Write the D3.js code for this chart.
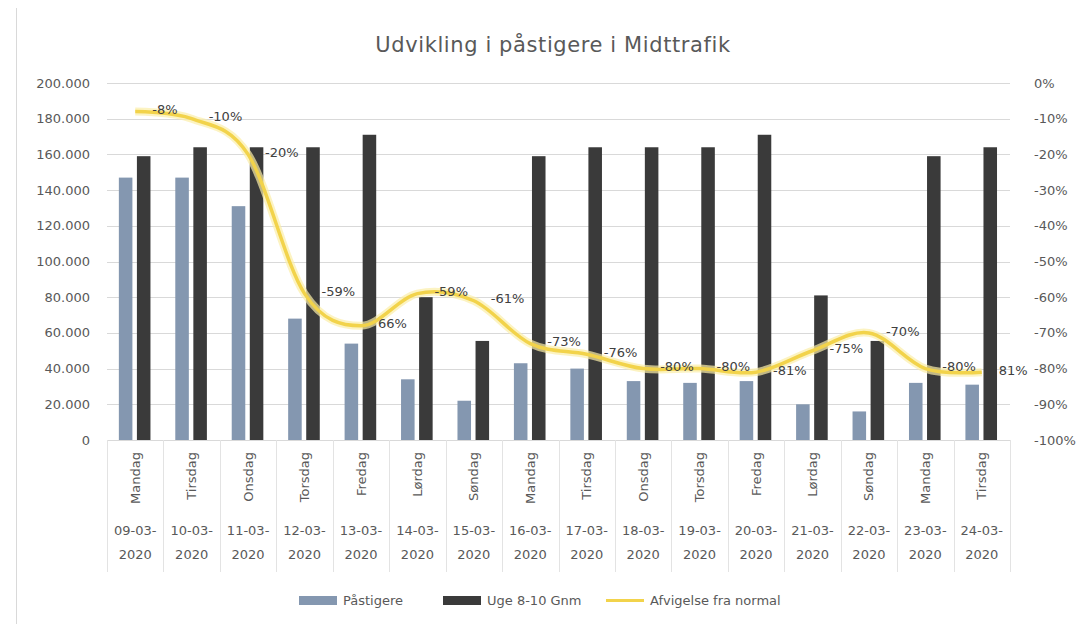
<!DOCTYPE html>
<html>
<head>
<meta charset="utf-8">
<script src="https://cdn.jsdelivr.net/npm/d3@7"></script>
<style>
  body { margin: 0; background: #fff; }
  text { font-family: "DejaVu Sans", sans-serif; fill: #595959; }
</style>
</head>
<body>
<svg id="chart" width="1084" height="624"></svg>
<script>
// ---------------------------//
//            DATA            //
// ---------------------------//
var weekdays = ["Mandag", "Tirsdag", "Onsdag", "Torsdag", "Fredag", "Lørdag", "Søndag",
                "Mandag", "Tirsdag", "Onsdag", "Torsdag", "Fredag", "Lørdag", "Søndag",
                "Mandag", "Tirsdag"]
var dates = ["09-03-2020", "10-03-2020", "11-03-2020", "12-03-2020", "13-03-2020", "14-03-2020",
             "15-03-2020", "16-03-2020", "17-03-2020", "18-03-2020", "19-03-2020", "20-03-2020",
             "21-03-2020", "22-03-2020", "23-03-2020", "24-03-2020"]
var pastigere = [147000, 147000, 131000, 68000, 54000, 34000, 22000, 43000,
                 40000, 33000, 32000, 33000, 20000, 16000, 32000, 31000]
var ugeGnm = [159000, 164000, 164000, 164000, 171000, 80000, 55500, 159000,
              164000, 164000, 164000, 171000, 81000, 55500, 159000, 164000]
var afvigelse = [-8, -10, -20, -59, -68, -59, -61, -73, -76, -80, -80, -81, -75, -70, -80, -81]
var afvigelseLabels = ["-8%", "-10%", "-20%", "-59%", "66%", "-59%", "-61%", "-73%",
                       "-76%", "-80%", "-80%", "-81%", "-75%", "-70%", "-80%", "81%"]
var leftTicks = [0, 20000, 40000, 60000, 80000, 100000, 120000, 140000, 160000, 180000, 200000]
var rightTicks = [0, -10, -20, -30, -40, -50, -60, -70, -80, -90, -100]
var seriesNames = ["Påstigere", "Uge 8-10 Gnm", "Afvigelse fra normal"]

var colors = { p: "#8497b0", u: "#3a3a3a", line: "#f2d34b" }

// ---------------------------//
//       AXIS  AND SCALE      //
// ---------------------------//
var svg = d3.select("#chart")
var plotLeft = 107, plotRight = 1010, plotTop = 83, plotBottom = 440

var x0 = d3.scaleBand().domain(d3.range(dates.length)).range([plotLeft, plotRight])
var bw = x0.bandwidth()
var x1 = d3.scaleBand().domain(["p", "u"]).range([bw * 0.21, bw * 0.77]).paddingInner(0.25)
var y = d3.scaleLinear().domain([0, 200000]).range([plotBottom, plotTop])
var y2 = d3.scaleLinear().domain([-100, 0]).range([plotBottom, plotTop])

// frame edge on the left
svg.append("line").attr("x1", 16.5).attr("x2", 16.5).attr("y1", 8).attr("y2", 624)
  .attr("stroke", "#d9d9d9")

// title
svg.append("text")
  .attr("x", 553).attr("y", 52)
  .attr("text-anchor", "middle")
  .style("font-size", "21px")
  .style("letter-spacing", "0.6px")
  .text("Udvikling i påstigere i Midttrafik")

// gridlines
svg.append("g").selectAll("line")
  .data(leftTicks)
  .enter().append("line")
    .attr("x1", plotLeft).attr("x2", plotRight)
    .attr("y1", function(d){ return Math.round(y(d)) + 0.5 })
    .attr("y2", function(d){ return Math.round(y(d)) + 0.5 })
    .attr("stroke", "#d9d9d9")

// left axis labels
svg.append("g").selectAll("text")
  .data(leftTicks)
  .enter().append("text")
    .attr("x", 90)
    .attr("y", function(d){ return y(d) })
    .attr("dy", "0.35em")
    .attr("text-anchor", "end")
    .style("font-size", "13px")
    .text(function(d){ return d3.format(",")(d).replace(/,/g, ".") })

// right axis labels
svg.append("g").selectAll("text")
  .data(rightTicks)
  .enter().append("text")
    .attr("x", 1034)
    .attr("y", function(d){ return y2(d) })
    .attr("dy", "0.35em")
    .attr("text-anchor", "start")
    .style("font-size", "13px")
    .text(function(d){ return d + "%" })

// category separators
svg.append("g").selectAll("line")
  .data(d3.range(dates.length + 1))
  .enter().append("line")
    .attr("x1", function(i){ return Math.round(plotLeft + i * bw) + 0.5 })
    .attr("x2", function(i){ return Math.round(plotLeft + i * bw) + 0.5 })
    .attr("y1", plotBottom).attr("y2", 572)
    .attr("stroke", "#e3e3e3")

// weekday labels (rotated)
svg.append("g").selectAll("text")
  .data(weekdays)
  .enter().append("text")
    .attr("transform", function(d, i){
      return "translate(" + (x0(i) + bw / 2) + ",452) rotate(-90)" })
    .attr("dy", "0.35em")
    .attr("text-anchor", "end")
    .style("font-size", "13px")
    .text(function(d){ return d })

// date labels on two lines
var dl = svg.append("g").selectAll("text")
  .data(dates)
  .enter().append("text")
    .attr("text-anchor", "middle")
    .style("font-size", "13px")
dl.append("tspan")
  .attr("x", function(d, i){ return x0(i) + bw / 2 })
  .attr("y", 535)
  .text(function(d){ return d.slice(0, 6) })
dl.append("tspan")
  .attr("x", function(d, i){ return x0(i) + bw / 2 })
  .attr("y", 559)
  .text(function(d){ return d.slice(6) })

// ---------------------------//
//            BARS            //
// ---------------------------//
svg.append("g").selectAll("rect")
  .data(pastigere)
  .enter().append("rect")
    .attr("x", function(d, i){ return x0(i) + x1("p") })
    .attr("width", x1.bandwidth())
    .attr("y", function(d){ return y(d) })
    .attr("height", function(d){ return plotBottom - y(d) })
    .attr("fill", colors.p)

svg.append("g").selectAll("rect")
  .data(ugeGnm)
  .enter().append("rect")
    .attr("x", function(d, i){ return x0(i) + x1("u") })
    .attr("width", x1.bandwidth())
    .attr("y", function(d){ return y(d) })
    .attr("height", function(d){ return plotBottom - y(d) })
    .attr("fill", colors.u)

// ---------------------------//
//            LINE            //
// ---------------------------//
var line = d3.line()
  .x(function(d, i){ return x0(i) + bw / 2 })
  .y(function(d){ return y2(d) })
  .curve(d3.curveCatmullRom.alpha(0))

svg.append("path").datum(afvigelse)
  .attr("d", line).attr("fill", "none")
  .attr("stroke", "#fbeea8").attr("stroke-width", 8).attr("stroke-opacity", 0.7)
svg.append("path").datum(afvigelse)
  .attr("d", line).attr("fill", "none")
  .attr("stroke", colors.line).attr("stroke-width", 3.5)

// data labels
svg.append("g").selectAll("text")
  .data(afvigelse)
  .enter().append("text")
    .attr("x", function(d, i){ return x0(i) + bw / 2 + 17 })
    .attr("y", function(d){ return y2(d) })
    .attr("dy", "0.2em")
    .style("font-size", "13px")
    .style("fill", "#404040")
    .text(function(d, i){ return afvigelseLabels[i] })

// ---------------------------//
//           LEGEND           //
// ---------------------------//
var lg = svg.append("g")
lg.append("rect").attr("x", 299).attr("y", 596).attr("width", 38).attr("height", 9).attr("fill", colors.p)
lg.append("text").attr("x", 343).attr("y", 600).attr("dy", "0.35em").style("font-size", "13px").text(seriesNames[0])
lg.append("rect").attr("x", 443).attr("y", 596).attr("width", 38).attr("height", 9).attr("fill", colors.u)
lg.append("text").attr("x", 487).attr("y", 600).attr("dy", "0.35em").style("font-size", "13px").text(seriesNames[1])
lg.append("line").attr("x1", 606).attr("x2", 644).attr("y1", 600.5).attr("y2", 600.5)
  .attr("stroke", colors.line).attr("stroke-width", 3)
lg.append("text").attr("x", 650).attr("y", 600).attr("dy", "0.35em").style("font-size", "13px").text(seriesNames[2])
</script>
</body>
</html>
